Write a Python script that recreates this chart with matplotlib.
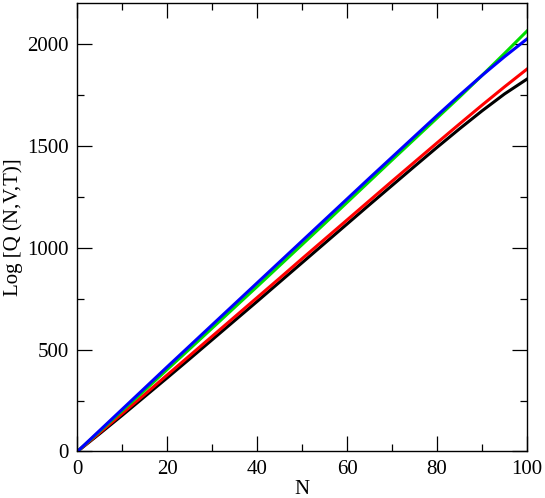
import matplotlib
matplotlib.use("Agg")
import matplotlib.pyplot as plt
from matplotlib.ticker import MultipleLocator

# particle number
N = [0, 5, 10, 15, 20, 25, 30, 35, 40, 45, 50,
     55, 60, 65, 70, 75, 80, 85, 90, 95, 100]

# log Q(N,V,T) curves
black = [0, 88, 178, 270, 362, 455, 549, 643, 737, 832, 927,
         1022, 1117, 1212, 1306, 1400, 1493, 1584, 1672, 1755, 1828]
red = [0, 93, 187, 281, 376, 471, 566, 661, 756, 851, 947,
       1042, 1137, 1232, 1327, 1421, 1515, 1608, 1700, 1790, 1877]
green = [0, 100, 201, 301, 403, 504, 606, 708, 810, 913, 1016,
         1119, 1223, 1327, 1431, 1534, 1637, 1740, 1846, 1954, 2064]
blue = [0, 104, 208, 312, 416, 519, 622, 725, 828, 931, 1034,
        1137, 1240, 1343, 1445, 1547, 1649, 1749, 1846, 1938, 2025]

plt.rcParams['font.family'] = ['Liberation Serif', 'DejaVu Serif']

fig = plt.figure(figsize=(5.45, 4.98), dpi=100)
ax = fig.add_axes([0.142, 0.0934, 0.825, 0.9])

lw = 2.2
ax.plot(N, black, color='black', lw=lw)
ax.plot(N, red, color='#ff0000', lw=lw)
ax.plot(N, green, color='#00dd00', lw=lw)
ax.plot(N, blue, color='#0000ff', lw=lw)

ax.set_xlim(0, 100)
ax.set_ylim(0, 2200)
ax.xaxis.set_major_locator(MultipleLocator(20))
ax.xaxis.set_minor_locator(MultipleLocator(10))
ax.yaxis.set_major_locator(MultipleLocator(500))
ax.yaxis.set_minor_locator(MultipleLocator(250))

ax.tick_params(which='both', direction='in', top=True, right=True, width=0.9)
ax.tick_params(which='major', length=10.5, labelsize=15, pad=6)
ax.tick_params(which='minor', length=5)
for s in ax.spines.values():
    s.set_linewidth(1.0)

ax.set_xlabel('N', fontsize=15, labelpad=1)
ax.set_ylabel('Log [Q (N,V,T)]', fontsize=15, labelpad=3)

fig.savefig('out.png', dpi=100)
